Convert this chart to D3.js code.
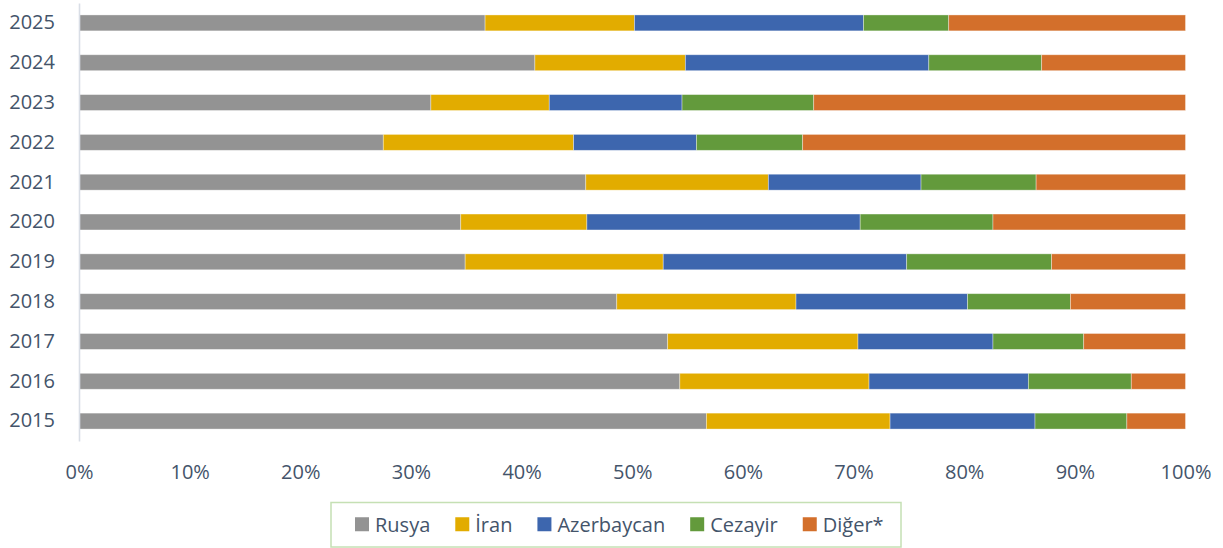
<!DOCTYPE html>
<html>
<head>
<meta charset="utf-8">
<script src="https://cdn.jsdelivr.net/npm/d3@7"></script>
<style>
  html, body { margin: 0; padding: 0; background: #ffffff; }
  svg { display: block; font-family: "Open Sans", "Noto Sans", sans-serif; }
</style>
</head>
<body>
<svg id="chart" width="1223" height="548"></svg>
<script>
// ---- data (percent shares) ----
const years = ["2025","2024","2023","2022","2021","2020","2019","2018","2017","2016","2015"];
const seriesNames = ["Rusya","İran","Azerbaycan","Cezayir","Diğer*"];
const rusya      = [36.7, 41.2, 31.8, 27.5, 45.8, 34.5, 34.9, 48.6, 53.2, 54.3, 56.7];
const iran       = [13.5, 13.6, 10.7, 17.2, 16.5, 11.4, 17.9, 16.2, 17.2, 17.1, 16.6];
const azerbaycan = [20.7, 22.0, 12.0, 11.1, 13.8, 24.7, 22.0, 15.5, 12.2, 14.4, 13.1];
const cezayir    = [ 7.7, 10.2, 11.9,  9.6, 10.4, 12.0, 13.1,  9.3,  8.2,  9.3,  8.3];
const diger      = [21.4, 13.0, 33.6, 34.6, 13.5, 17.4, 12.1, 10.4,  9.2,  4.9,  5.3];
const xTicks = [0, 0.1, 0.2, 0.3, 0.4, 0.5, 0.6, 0.7, 0.8, 0.9, 1.0];
const colors = ["#939393", "#E2AC00", "#3D66AE", "#639A3C", "#D36F2B"];

const seriesValues = [rusya, iran, azerbaycan, cezayir, diger];
const table = years.map((y, i) => {
  const row = { year: y };
  seriesNames.forEach((s, k) => { row[s] = seriesValues[k][i]; });
  return row;
});

const svg = d3.select("#chart");
const textColor = "#44546A";

const x = d3.scaleLinear().domain([0, 1]).range([79, 1185.5]);
const y = d3.scaleBand().domain(years).range([3, 441]).paddingInner(0.6).paddingOuter(0.3);

// normalize rows to 100%
const stack = d3.stack().keys(seriesNames).offset(d3.stackOffsetExpand);
const stacked = stack(table);

const barsG = svg.append("g");
stacked.forEach((layer, k) => {
  barsG.append("g")
    .attr("fill", colors[k])
    .selectAll("rect")
    .data(layer)
    .join("rect")
    .attr("x", d => x(d[0]))
    .attr("width", d => x(d[1]) - x(d[0]))
    .attr("y", d => y(d.data.year))
    .attr("height", y.bandwidth())
    .attr("stroke", "#ffffff")
    .attr("stroke-opacity", 0.45)
    .attr("stroke-width", 0.8);
});

// y axis
const yAxis = svg.append("g")
  .attr("transform", `translate(${x(0)},0)`)
  .call(d3.axisLeft(y).tickSize(0).tickSizeOuter(0).tickPadding(24));
yAxis.select(".domain").attr("stroke", "#D9DEE6").attr("stroke-width", 1.6);
yAxis.selectAll("text")
  .attr("fill", textColor)
  .style("font-size", "20px")
  .style("font-family", "'Open Sans', sans-serif");

// x axis
const xAxis = svg.append("g")
  .attr("transform", "translate(0,441)")
  .call(d3.axisBottom(x).tickValues(xTicks).tickFormat(d3.format(".0%")).tickSize(0).tickPadding(24));
xAxis.select(".domain").remove();
xAxis.selectAll("text")
  .attr("fill", textColor)
  .style("font-size", "20px")
  .style("font-family", "'Open Sans', sans-serif");

// legend
const legendBox = { x: 331, y: 502.5, w: 570, h: 44.5 };
svg.append("rect")
  .attr("x", legendBox.x).attr("y", legendBox.y)
  .attr("width", legendBox.w).attr("height", legendBox.h)
  .attr("fill", "none").attr("stroke", "#C5E0B4").attr("stroke-width", 1.5);

const legendG = svg.append("g");
let cx = legendBox.x + 24;
const cy = legendBox.y + legendBox.h / 2;
seriesNames.forEach((name, k) => {
  legendG.append("rect")
    .attr("x", cx).attr("y", cy - 7.5)
    .attr("width", 14).attr("height", 14)
    .attr("fill", colors[k]);
  const t = legendG.append("text")
    .attr("x", cx + 20).attr("y", cy)
    .attr("dy", "0.35em")
    .attr("fill", textColor)
    .style("font-size", "20px")
    .style("font-family", "'Open Sans', sans-serif")
    .text(name);
  const w = t.node().getComputedTextLength();
  cx = cx + 20 + w + 25;
});
</script>
</body>
</html>
